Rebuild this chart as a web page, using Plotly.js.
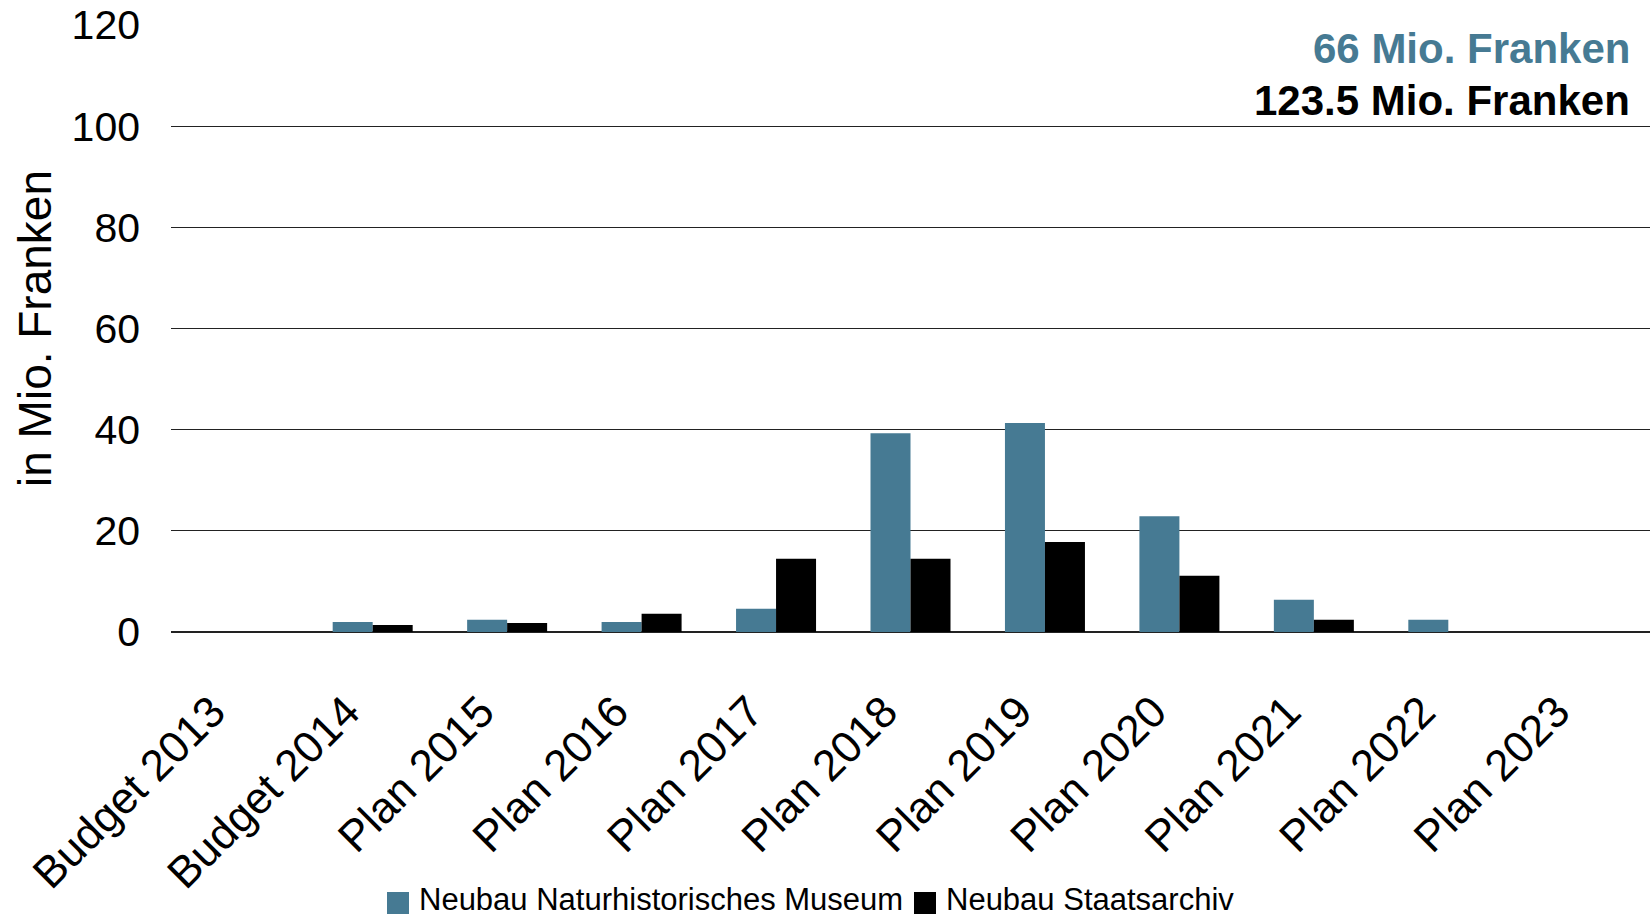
<!DOCTYPE html>
<html>
<head>
<meta charset="utf-8">
<script src="https://cdn.plot.ly/plotly-3.0.1.min.js"></script>
<style>
  html, body { margin: 0; padding: 0; background: #fff; }
  #chart { width: 1650px; height: 918px; }
</style>
</head>
<body>
<div id="chart"></div>
<script>
const categories = ["Budget 2013", "Budget 2014", "Plan 2015", "Plan 2016", "Plan 2017", "Plan 2018", "Plan 2019", "Plan 2020", "Plan 2021", "Plan 2022", "Plan 2023"];
const museumValues = [0, 2.0, 2.4, 2.0, 4.6, 39.3, 41.3, 22.9, 6.4, 2.4, 0];
const archivValues = [0, 1.4, 1.8, 3.6, 14.5, 14.5, 17.8, 11.1, 2.4, 0, 0];
const seriesNames = ["Neubau Naturhistorisches Museum", "Neubau Staatsarchiv"];
const seriesColors = ["#467A93", "#000000"];
const totalLabels = ["66 Mio. Franken", "123.5 Mio. Franken"];
const yTicks = [0, 20, 40, 60, 80, 100, 120];
const yTitle = "in Mio. Franken";

const FONT = '"Liberation Sans", Arial, Helvetica, sans-serif';

// plot area geometry (pixels)
const M = { l: 171, r: 0, t: 25, b: 286 };
const W = 1650, H = 918;
const PW = W - M.l - M.r, PH = H - M.t - M.b;
const px = x => (x - M.l) / PW;          // pixel -> paper x
const py = y => (H - M.b - y) / PH;      // pixel -> paper y

const traces = seriesNames.map((name, i) => ({
  type: 'bar', name: name, x: categories, y: i === 0 ? museumValues : archivValues,
  marker: { color: seriesColors[i] }, hoverinfo: 'x+y'
}));

// custom legend (swatch squares + labels) placed below the axis
const legendItems = [
  { sq: [387, 409], tx: 418 },
  { sq: [914, 936], tx: 945 }
];
const legendTop = 892, legendBottom = 914, legendMid = 899;

const shapes = legendItems.map((it, i) => ({
  type: 'rect', xref: 'paper', yref: 'paper',
  x0: px(it.sq[0]), x1: px(it.sq[1]), y0: py(legendBottom), y1: py(legendTop),
  fillcolor: seriesColors[i], line: { width: 0 }
}));

const annotations = [
  { xref: 'paper', yref: 'paper', x: 0.988, y: 0.962, xanchor: 'right', yanchor: 'middle', showarrow: false,
    text: '<b>' + totalLabels[0] + '</b>', font: { family: FONT, size: 42, color: seriesColors[0] } },
  { xref: 'paper', yref: 'paper', x: 0.988, y: 0.876, xanchor: 'right', yanchor: 'middle', showarrow: false,
    text: '<b>' + totalLabels[1] + '</b>', font: { family: FONT, size: 42, color: '#000' } }
].concat(legendItems.map((it, i) => ({
  xref: 'paper', yref: 'paper', x: px(it.tx), y: py(legendMid), xanchor: 'left', yanchor: 'middle',
  showarrow: false, borderpad: 0, text: seriesNames[i], font: { family: FONT, size: 31, color: '#000' }
})));

const layout = {
  width: W, height: H,
  margin: M,
  paper_bgcolor: '#ffffff', plot_bgcolor: '#ffffff',
  font: { family: FONT, color: '#000000', size: 40 },
  barmode: 'group', bargap: 0.405, bargroupgap: 0,
  showlegend: false,
  xaxis: {
    type: 'category', tickangle: -45, showgrid: false, zeroline: false, showline: false,
    ticks: '', tickfont: { family: FONT, size: 44, color: '#000' },
    ticklabelstandoff: 44, ticklabelshift: -26,
    automargin: false
  },
  yaxis: {
    range: [0, 120], tickvals: yTicks, ticktext: yTicks.map(String),
    showgrid: true, gridcolor: '#222222', gridwidth: 1,
    zeroline: true, zerolinecolor: '#222222', zerolinewidth: 1.5,
    showline: false, ticks: '', ticklabelstandoff: 30,
    tickfont: { family: FONT, size: 41, color: '#000' },
    title: { text: yTitle, font: { family: FONT, size: 46, color: '#000' }, standoff: 5 },
    automargin: false, fixedrange: true
  },
  shapes: shapes,
  annotations: annotations
};

Plotly.newPlot('chart', traces, layout, { displayModeBar: false, staticPlot: true });
</script>
</body>
</html>
